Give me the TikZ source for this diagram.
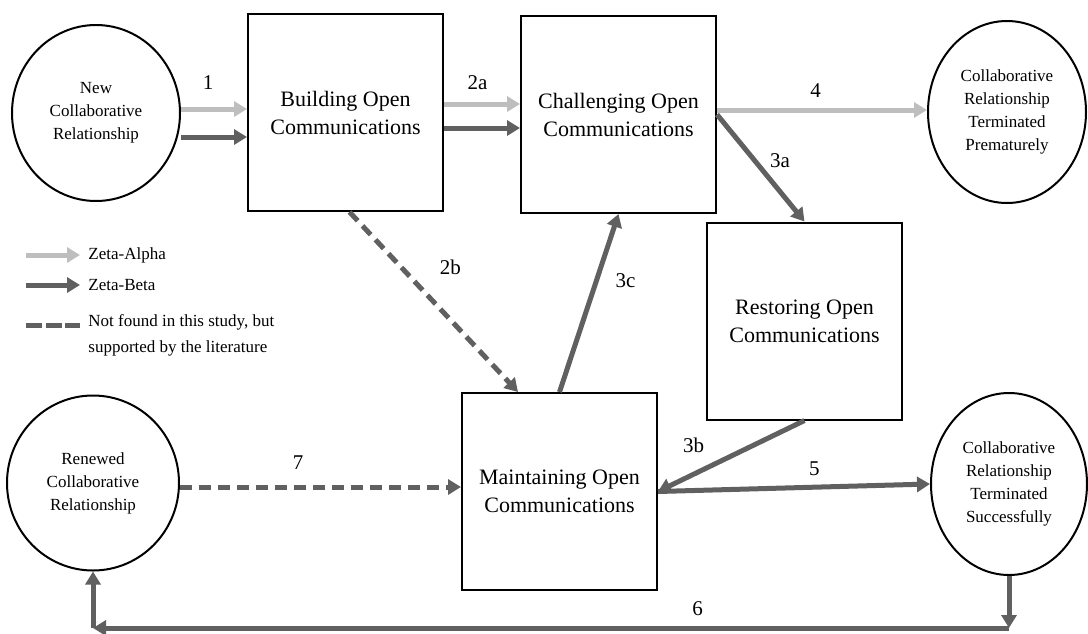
\documentclass[tikz,border=0pt]{standalone}
\usepackage{fontspec}
\setmainfont{Liberation Serif}
\usetikzlibrary{arrows.meta,shapes.geometric}
\definecolor{zetaA}{HTML}{BEBEBE}
\definecolor{zetaB}{HTML}{606060}

\begin{document}
\begin{tikzpicture}[
    x=0.5pt, y=-0.5pt,
    stage/.style={%
      draw,
      rectangle,
      line width=1pt,
      minimum width=97.5pt,
      minimum height=98.5pt,
      align=center,
      font=\fontsize{11}{14}\selectfont,
    },
    rel/.style={%
      draw,
      ellipse,
      line width=1pt,
      inner sep=0pt,
      align=center,
      font=\fontsize{8.5}{11.5}\selectfont,
    },
    flow/.style={line width=2.5pt, -{Triangle[length=6.5pt,width=7.5pt]}},
    zalpha/.style={flow, zetaA},
    zbeta/.style={flow, zetaB},
    nf/.style={zbeta, dash pattern=on 6pt off 3.5pt},
    lbl/.style={text=black, font=\fontsize{10.5}{12}\selectfont},
    key/.style={anchor=west, inner sep=1pt, align=left, font=\fontsize{8.5}{13}\selectfont},
  ]
    \useasboundingbox (0,0) rectangle (1088,633);

    \node [rel, minimum width=84pt, minimum height=88pt] (New) at (96,113) {New\\Collaborative\\Relationship};
    \node [stage] (Build) at (345.5,112.5) {Building Open\\Communications};
    \node [stage] (Chal) at (618.5,114.5) {Challenging Open\\Communications};
    \node [rel, minimum width=79pt, minimum height=91pt] (Prem) at (1007,112) {Collaborative\\Relationship\\Terminated\\Prematurely};
    \node [stage] (Rest) at (804.5,321) {Restoring Open\\Communications};
    \node [stage] (Maint) at (559.5,491.5) {Maintaining Open\\Communications};
    \node [rel, minimum width=86pt, minimum height=87.5pt] (Ren) at (93,483) {Renewed\\Collaborative\\Relationship};
    \node [rel, minimum width=78pt, minimum height=91pt] (Succ) at (1009,484) {Collaborative\\Relationship\\Terminated\\Successfully};
    \coordinate (rim) at (0,628);

    % legend
    \node [key] (kA) at (86,255) {Zeta-Alpha};
    \node [key] (kB) at (86,285) {Zeta-Beta};
    \node [key] (kC) at (86,335) {Not found in this study, but\\supported by the literature};
    \draw [zalpha] ([xshift=-30pt]kA.west) -- ([xshift=-3pt]kA.west);
    \draw [zbeta] ([xshift=-30pt]kB.west) -- ([xshift=-3pt]kB.west);
    \draw [nf, -, dash pattern=on 8pt off 1.8pt] ([xshift=-30pt,yshift=5pt]kC.west) -- ([xshift=-3pt,yshift=5pt]kC.west);

    \draw [zalpha] ([yshift=2pt]New.east) -- ([yshift=2pt]New.east -| Build.west) node [lbl,above=5pt,pos=0.41] {1};
    \draw [zbeta] ([yshift=-12pt]New.east) -- ([yshift=-12pt]New.east -| Build.west);
    \draw [zalpha] ([yshift=4.25pt]Build.east) -- ([yshift=4.25pt]Build.east -| Chal.west) node [lbl,above=2.5pt,pos=0.44] {2a};
    \draw [zbeta] ([yshift=-7.75pt]Build.east) -- ([yshift=-7.75pt]Build.east -| Chal.west);
    \draw [nf] ([xshift=2pt]Build.south) -- ([xshift=-20.75pt]Maint.north) node [lbl,right=14.5pt,pos=0.31] {2b};
    \draw [zalpha] ([yshift=2.25pt]Chal.east) -- ([yshift=2.25pt]Chal.east -| Prem.west) node [lbl,above=1.5pt,pos=0.47] {4};
    \draw [zbeta] (Chal.east) -- (Rest.north) node [lbl,right=3pt,pos=0.435] {3a};
    \draw [zbeta] (Rest.south) -- (Maint.east) node [lbl,above=6pt,pos=0.757] {3b};
    \draw [zbeta] (Maint.north) -- (Chal.south) node [lbl,right=5pt,pos=0.628] {3c};
    \draw [zbeta] (Maint.east) -- (Succ.west) node [lbl,above=1pt,pos=0.575] {5};
    \draw [zbeta] (Succ.south) -- (Succ.south |- rim);
    \draw [zbeta] (Succ.south |- rim) -- (Ren.south |- rim) node [lbl,above=1.5pt,pos=0.34] {6};
    \draw [zbeta] (Ren.south |- rim) -- (Ren.south);
    \draw [nf] ([yshift=-2pt]Ren.east) -- ([yshift=-2pt]Ren.east -| Maint.west) node [lbl,above=4pt,pos=0.42] {7};
    \end{tikzpicture}
\end{document}
